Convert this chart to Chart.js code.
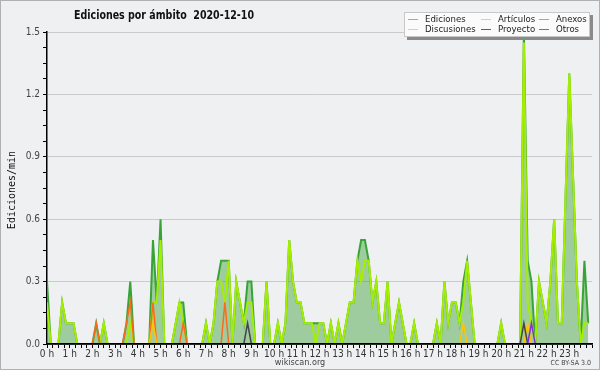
<!DOCTYPE html>
<html>
<head>
<meta charset="utf-8">
<script src="https://cdn.jsdelivr.net/npm/chart.js@4.4.1/dist/chart.umd.min.js"></script>
<style>
html,body{margin:0;padding:0;background:#eff0f1}
canvas{display:block}
</style>
</head>
<body>
<canvas id="grafico" width="600" height="370"></canvas>
<script>
const titulo = 'Ediciones por ámbito  2020-12-10';
const etiquetasHoras = ['0 h','1 h','2 h','3 h','4 h','5 h','6 h','7 h','8 h','9 h','10 h','11 h',
  '12 h','13 h','14 h','15 h','16 h','17 h','18 h','19 h','20 h','21 h','22 h','23 h'];
const ticksY = [0, 0.3, 0.6, 0.9, 1.2, 1.5];

// ediciones/min por bloques de 10 minutos, 2 horas por fila
const ediciones = [
  0.3,0,0,0,0.2,0.1,  0.1,0.1,0,0,0,0,
  0,0.1,0,0.1,0,0,    0,0,0,0.1,0.3,0,
  0,0,0,0,0.5,0.2,    0.6,0,0,0,0.1,0.2,
  0.2,0,0,0,0,0,      0.1,0,0.1,0.3,0.4,0.4,
  0.4,0,0.3,0.2,0.1,0.3,  0.3,0,0,0,0.3,0,
  0,0.1,0,0.1,0.5,0.3,    0.2,0.2,0.1,0.1,0.1,0.1,
  0.1,0.1,0,0.1,0,0.1,    0,0.1,0.2,0.2,0.4,0.5,
  0.5,0.4,0.2,0.3,0.1,0.1,  0.3,0,0.1,0.2,0.1,0,
  0,0.1,0,0,0,0,      0,0.1,0,0.3,0.1,0.2,
  0.2,0.1,0.3,0.4,0.2,0,  0,0,0,0,0,0,
  0.1,0,0,0,0,0,      1.5,0.4,0.3,0,0.3,0.2,
  0.1,0.3,0.6,0.1,0.1,0.7,  1.3,0.8,0.3,0,0.4,0.1
];
const articulos = [
  0.2,0,0,0,0.2,0.1,  0.1,0.1,0,0,0,0,
  0,0,0,0.1,0,0,      0,0,0,0,0.1,0,
  0,0,0,0,0.2,0.2,    0.5,0,0,0,0.1,0.2,
  0.1,0,0,0,0,0,      0.1,0,0.1,0.3,0.3,0.2,
  0.4,0,0.3,0.2,0.1,0.2,  0.2,0,0,0,0.3,0,
  0,0.1,0,0.1,0.5,0.3,    0.2,0.2,0.1,0.1,0.1,0,
  0.1,0.1,0,0.1,0,0.1,    0,0.1,0.2,0.2,0.4,0.3,
  0.4,0.4,0.2,0.3,0.1,0.1,  0.3,0,0.1,0.2,0.1,0,
  0,0.1,0,0,0,0,      0,0.1,0,0.3,0.1,0.2,
  0.2,0.1,0.2,0.4,0.2,0,  0,0,0,0,0,0,
  0.1,0,0,0,0,0,      1.45,0.2,0.1,0,0.3,0.2,
  0.1,0.3,0.6,0.1,0.1,0.7,  1.3,0.8,0.3,0,0.1,0.1
];
const anexos = [
  0,0,0,0,0,0,  0,0,0,0,0,0,
  0,0.1,0,0,0,0,  0,0,0,0.1,0.2,0,
  0,0,0,0,0.2,0,  0,0,0,0,0,0,
  0.1,0,0,0,0,0,  0,0,0,0,0,0.2,
  0,0,0,0,0,0,  0,0,0,0,0,0,
  0,0,0,0,0,0,  0,0,0,0,0,0,
  0,0,0,0,0,0,  0,0,0,0,0,0,
  0,0,0,0,0,0,  0,0,0,0,0,0,
  0,0,0,0,0,0,  0,0,0,0,0,0,
  0,0,0,0,0,0,  0,0,0,0,0,0,
  0,0,0,0,0,0,  0,0,0,0,0,0,
  0,0,0,0,0,0,  0,0,0,0,0,0
];
const discusiones = [
  0,0,0,0,0,0,  0,0,0,0,0,0,
  0,0,0,0,0,0,  0,0,0,0,0,0,
  0,0,0,0,0.1,0,  0,0,0,0,0,0,
  0,0,0,0,0,0,  0,0,0,0,0,0,
  0,0,0,0,0,0,  0,0,0,0,0,0,
  0,0,0,0,0,0,  0,0,0,0,0,0,
  0,0,0,0,0,0,  0,0,0,0,0,0,
  0,0,0,0,0,0,  0,0,0,0,0,0,
  0,0,0,0,0,0,  0,0,0,0,0,0,
  0,0,0.1,0,0,0,  0,0,0,0,0,0,
  0,0,0,0,0,0,  0,0.1,0,0,0,0,
  0,0,0,0,0,0,  0,0,0,0,0,0
];
const proyecto = [
  0,0,0,0,0,0,  0,0,0,0,0,0,
  0,0,0,0,0,0,  0,0,0,0,0,0,
  0,0,0,0,0,0,  0,0,0,0,0,0,
  0,0,0,0,0,0,  0,0,0,0,0,0,
  0,0,0,0,0,0.1,  0,0,0,0,0,0,
  0,0,0,0,0,0,  0,0,0,0,0,0,
  0,0,0,0,0,0,  0,0,0,0,0,0,
  0,0,0,0,0,0,  0,0,0,0,0,0,
  0,0,0,0,0,0,  0,0,0,0,0,0,
  0,0,0,0,0,0,  0,0,0,0,0,0,
  0,0,0,0,0,0,  0.1,0,0,0,0,0,
  0,0,0,0,0,0,  0,0,0,0,0,0
];
const otros = [
  0,0,0,0,0,0,  0,0,0,0,0,0,
  0,0,0,0,0,0,  0,0,0,0,0,0,
  0,0,0,0,0,0,  0,0,0,0,0,0,
  0,0,0,0,0,0,  0,0,0,0,0,0,
  0,0,0,0,0,0,  0,0,0,0,0,0,
  0,0,0,0,0,0,  0,0,0,0,0,0,
  0,0,0,0,0,0,  0,0,0,0,0,0,
  0,0,0,0,0,0,  0,0,0,0,0,0,
  0,0,0,0,0,0,  0,0,0,0,0,0,
  0,0,0,0,0,0,  0,0,0,0,0,0,
  0,0,0,0,0,0,  0,0,0.1,0,0,0,
  0,0,0,0,0,0,  0,0,0,0,0,0
];

const FONDO = '#eff0f1';
const fuente = '"DejaVu Sans Condensed","DejaVu Sans",sans-serif';

// x en horas: cada valor es un bloque de 10 min
const puntos = arr => arr.map((v,i) => ({x: i/6, y: v}));

function serie(label, data, color, orden, leyenda, ancho){
  return {
    label, data: puntos(data), borderColor: color, leyenda: leyenda || color,
    borderWidth: ancho || 1.5, pointRadius: 0, tension: 0, fill: false, order: orden,
    segment: { borderColor: c => (c.p0.parsed.y === 0 && c.p1.parsed.y === 0) ? 'rgba(0,0,0,0)' : undefined }
  };
}

const sets = [
  Object.assign(serie('Ediciones', ediciones, '#38a438', 6, '#78c878', 2), { fill: 'origin', backgroundColor: 'rgba(60,160,60,0.45)' }),
  serie('Artículos', articulos, '#a6ee00', 5, '#c4ef40', 2),
  serie('Anexos', anexos, '#ff6a1a', 4, '#ff8a4a'),
  serie('Discusiones', discusiones, '#ffc400', 3, '#ffd040'),
  serie('Proyecto', proyecto, '#444444', 2, '#606060'),
  serie('Otros', otros, '#8a2be2', 1, '#9a4cff')
];

const esMayor = v => { const k = v/0.3; return Math.abs(k - Math.round(k)) < 1e-6; };

const extras = {
  id: 'extras',
  beforeDraw(chart){
    const c = chart.ctx;
    c.save();
    c.fillStyle = FONDO;
    c.fillRect(0, 0, chart.width, chart.height);
    c.restore();
  },
  afterDatasetsDraw(chart){
    const c = chart.ctx, a = chart.chartArea;
    c.save();
    c.fillStyle = '#000';
    c.fillRect(a.left - 1, a.bottom - 1, a.right - a.left + 1, 1.6);
    c.restore();
  },
  afterDraw(chart){
    const c = chart.ctx;
    c.save();
    // titulo, ajustado al ancho del original
    c.fillStyle = '#111';
    c.font = 'bold 12.5px ' + fuente;
    const w = c.measureText(titulo).width;
    c.save();
    c.translate(74, 18.5);
    c.scale(180 / w, 1);
    c.fillText(titulo, 0, 0);
    c.restore();
    // titulo eje y
    c.save();
    c.translate(15, 190);
    c.rotate(-Math.PI/2);
    c.font = '10px "DejaVu Sans Mono",monospace';
    c.textAlign = 'center';
    c.fillStyle = '#111';
    c.fillText('Ediciones/min', 0, 0);
    c.restore();
    // pie
    c.fillStyle = '#444';
    c.font = '9px ' + fuente;
    c.textAlign = 'center';
    c.fillText('wikiscan.org', 300, 365);
    c.font = '7px ' + fuente;
    c.textAlign = 'right';
    c.fillText('CC BY-SA 3.0', 591, 365);
    // leyenda
    const bx = 404, by = 12, bw = 186, bh = 25;
    c.fillStyle = '#8a8a8a';
    c.fillRect(bx + 3, by + 3, bw, bh);
    c.fillStyle = '#fbfbfb';
    c.fillRect(bx, by, bw, bh);
    c.strokeStyle = '#c8c8c8';
    c.lineWidth = 1;
    c.strokeRect(bx + 0.5, by + 0.5, bw - 1, bh - 1);
    const colX = [408, 481, 539], filaY = [19.5, 29.5];
    c.font = '9.5px ' + fuente;
    c.textAlign = 'left';
    c.textBaseline = 'middle';
    chart.data.datasets.forEach((d, k) => {
      const x = colX[k % 3], y = filaY[Math.floor(k / 3)];
      c.strokeStyle = d.leyenda;
      c.beginPath(); c.moveTo(x, y); c.lineTo(x + 10, y); c.stroke();
      c.fillStyle = '#222';
      c.fillText(d.label, x + 17, y);
    });
    // marco
    c.strokeStyle = '#b0b0b0';
    c.strokeRect(0.5, 0.5, chart.width - 1, chart.height - 1);
    c.restore();
  }
};

new Chart(document.getElementById('grafico').getContext('2d'), {
  type: 'line',
  data: { datasets: sets },
  options: {
    responsive: false,
    animation: false,
    layout: { padding: { top: 32, right: 8, left: 0, bottom: 0 } },
    plugins: { legend: { display: false }, tooltip: { enabled: false }, title: { display: false } },
    scales: {
      x: {
        type: 'linear', min: 0, max: 24,
        afterFit: s => { s.height = 26; },
        border: { color: '#000', width: 1.5 },
        grid: { drawOnChartArea: false, drawTicks: true, tickLength: 4, tickColor: '#000' },
        ticks: {
          stepSize: 0.25, autoSkip: false, maxRotation: 0, padding: 0,
          color: '#333', font: { family: fuente, size: 10 },
          callback: v => (Number.isInteger(v) && v < 24) ? etiquetasHoras[v] : ''
        }
      },
      y: {
        min: ticksY[0], max: ticksY[ticksY.length - 1],
        afterFit: s => { s.width = 47; },
        border: { color: '#000', width: 1.5 },
        grid: {
          color: c => (c.tick && esMayor(c.tick.value)) ? '#cacaca' : 'rgba(0,0,0,0)',
          tickColor: '#000', tickLength: 4, lineWidth: 1
        },
        ticks: {
          stepSize: 0.075, autoSkip: false, padding: 3,
          color: '#444', font: { family: fuente, size: 10 },
          callback: v => esMayor(v) ? (Math.round(v/0.3)*0.3).toFixed(1) : ''
        }
      }
    }
  },
  plugins: [extras]
});
</script>
</body>
</html>
